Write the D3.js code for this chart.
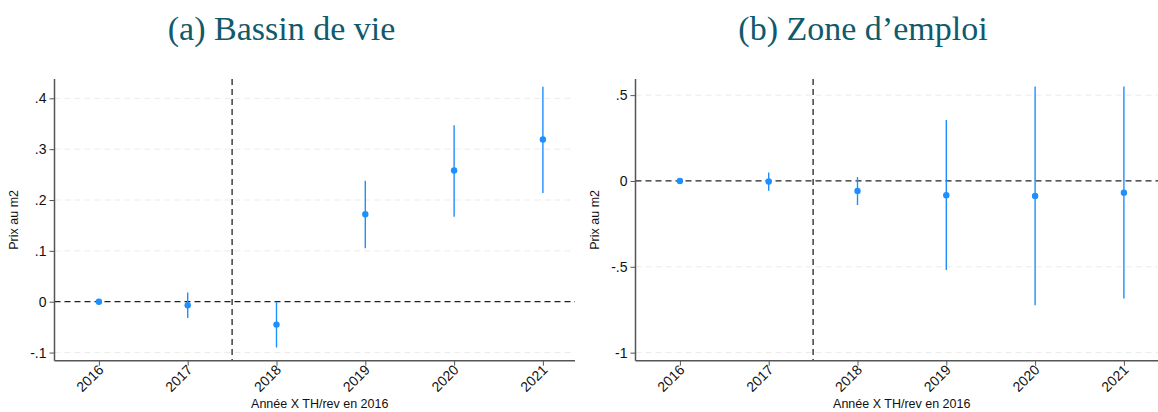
<!DOCTYPE html>
<html><head><meta charset="utf-8">
<script src="https://cdn.jsdelivr.net/npm/d3@7"></script>
<style>body{margin:0;background:#fff}svg{display:block}</style>
</head><body>
<svg id="c" width="1158" height="412"></svg>
<script>
const years = [2016, 2017, 2018, 2019, 2020, 2021];
// Panel (a) Bassin de vie
const estA = [0, -0.007, -0.045, 0.172, 0.258, 0.319];
const loA  = [0, -0.032, -0.090, 0.105, 0.167, 0.214];
const hiA  = [0, 0.018, 0.000, 0.238, 0.347, 0.423];
const ticksA = [-0.1, 0, 0.1, 0.2, 0.3, 0.4];
const tickLabelsA = ["-.1", "0", ".1", ".2", ".3", ".4"];
// Panel (b) Zone d'emploi
const estB = [0, -0.003, -0.058, -0.083, -0.087, -0.068];
const loB  = [0, -0.057, -0.140, -0.519, -0.724, -0.684];
const hiB  = [0, 0.050, 0.023, 0.355, 0.550, 0.550];
const ticksB = [-1, -0.5, 0, 0.5];
const tickLabelsB = ["-1", "-.5", "0", ".5"];
const titles = ["(a) Bassin de vie", "(b) Zone d\u2019emploi"];
const yLabel = "Prix au m2";
const xLabel = "Ann\u00e9e X TH/rev en 2016";
const treatLine = 2017.5;

(function () {
const svg = d3.select("#c");
const panels = [
  {title: titles[0], est: estA, lo: loA, hi: hiA, ticks: ticksA, labels: tickLabelsA,
   left: 54.5, right: 575, yDom: [-0.116, 0.438], tcx: 281.5},
  {title: titles[1], est: estB, lo: loB, hi: hiB, ticks: ticksB, labels: tickLabelsB,
   left: 635.5, right: 1158, yDom: [-1.047, 0.594], tcx: 863}
];
const pTop = 79, pBot = 360.7;
const blue = "#1e8fff";
const sans = "'Liberation Sans', Arial, sans-serif";

panels.forEach(p => {
  const g = svg.append("g");
  const x = d3.scaleLinear().domain([2015.5, 2015.5 + (p.right - p.left) / 88.8]).range([p.left, p.right]);
  const y = d3.scaleLinear().domain(p.yDom).range([pBot, pTop]);

  svg.append("text").attr("x", p.tcx).attr("y", 40).attr("text-anchor", "middle")
    .attr("font-family", "'Liberation Serif', 'DejaVu Serif', serif").attr("font-size", 34)
    .attr("fill", "#0f5a6c").text(p.title);

  g.selectAll(".grid").data(p.ticks.filter(t => t !== 0)).enter().append("line")
    .attr("x1", p.left).attr("x2", p.right)
    .attr("y1", d => y(d)).attr("y2", d => y(d))
    .attr("stroke", "#ebebeb").attr("stroke-width", 1).attr("stroke-dasharray", "6,4");

  g.append("line").attr("x1", p.left).attr("x2", p.right)
    .attr("y1", y(0)).attr("y2", y(0))
    .attr("stroke", "#222").attr("stroke-width", 1.2).attr("stroke-dasharray", "6,4");

  g.append("line").attr("x1", x(treatLine)).attr("x2", x(treatLine))
    .attr("y1", pTop).attr("y2", pBot)
    .attr("stroke", "#111").attr("stroke-width", 1.2).attr("stroke-dasharray", "6,4");

  const yAxis = d3.axisLeft(y).tickValues(p.ticks).tickFormat((d, i) => p.labels[i]).tickSize(5).tickPadding(3);
  const ya = g.append("g").attr("transform", `translate(${p.left},0)`).call(yAxis);
  ya.select(".domain").attr("d", `M0,${pTop}V${pBot}`).attr("stroke", "#555").attr("stroke-width", 1.5);
  ya.selectAll(".tick line").attr("stroke", "#555");
  ya.selectAll(".tick text").attr("font-family", sans).attr("font-size", 14).attr("fill", "#111");

  const xAxis = d3.axisBottom(x).tickValues(years).tickFormat(d3.format("d")).tickSize(5);
  const xa = g.append("g").attr("transform", `translate(0,${pBot})`).call(xAxis);
  xa.select(".domain").attr("d", `M${p.left},0H${p.right}`).attr("stroke", "#555").attr("stroke-width", 1.5);
  xa.selectAll(".tick line").attr("stroke", "#555");
  xa.selectAll(".tick text").attr("font-family", sans).attr("font-size", 14).attr("fill", "#111")
    .attr("text-anchor", "end").attr("dy", null).attr("y", 0)
    .attr("transform", "translate(5,10) rotate(-45)");

  g.selectAll(".ci").data(years).enter().append("line")
    .attr("x1", d => x(d)).attr("x2", d => x(d))
    .attr("y1", (d, i) => y(p.lo[i])).attr("y2", (d, i) => y(p.hi[i]))
    .attr("stroke", blue).attr("stroke-width", 1.4);
  g.selectAll(".pt").data(years).enter().append("circle")
    .attr("cx", d => x(d)).attr("cy", (d, i) => y(p.est[i])).attr("r", 3.2)
    .attr("fill", blue);

  svg.append("text").attr("text-anchor", "middle")
    .attr("transform", `translate(${p.left - 37},${(pTop + pBot) / 2}) rotate(-90)`)
    .attr("font-family", sans).attr("font-size", 12.5).attr("fill", "#111")
    .text(yLabel);
  svg.append("text").attr("x", (p.left + p.right) / 2 + 5).attr("y", 408).attr("text-anchor", "middle")
    .attr("font-family", sans).attr("font-size", 12.5).attr("fill", "#111")
    .text(xLabel);
});
})();
</script>
</body></html>
